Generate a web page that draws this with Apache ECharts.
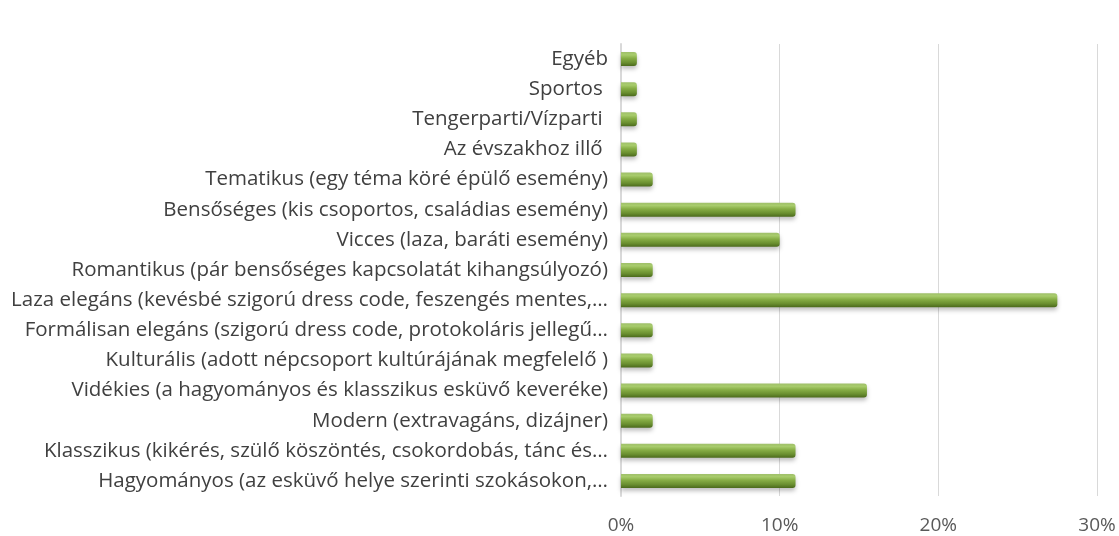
<!DOCTYPE html>
<html>
<head>
<meta charset="utf-8">
<script src="https://cdn.jsdelivr.net/npm/echarts@6/dist/echarts.min.js"></script>
<style>
html,body{margin:0;padding:0;background:#fff;}
#chart{width:1119px;height:536px;}
</style>
</head>
<body>
<div id="chart"></div>
<script>
// Categories listed bottom to top (as in the category axis order)
const categories = [
  "Hagyományos (az esküvő helye szerinti szokásokon,…",
  "Klasszikus (kikérés, szülő köszöntés, csokordobás, tánc és…",
  "Modern (extravagáns, dizájner)",
  "Vidékies (a hagyományos és klasszikus esküvő keveréke)",
  "Kulturális (adott népcsoport kultúrájának megfelelő )",
  "Formálisan elegáns (szigorú dress code, protokoláris jellegű…",
  "Laza elegáns (kevésbé szigorú dress code, feszengés mentes,…",
  "Romantikus (pár bensőséges kapcsolatát kihangsúlyozó)",
  "Vicces (laza, baráti esemény)",
  "Bensőséges (kis csoportos, családias esemény)",
  "Tematikus (egy téma köré épülő esemény)",
  "Az évszakhoz illő ",
  "Tengerparti/Vízparti ",
  "Sportos ",
  "Egyéb"
];
// Shares in percent
const values = [11, 11, 2, 15.5, 2, 2, 27.5, 2, 10, 11, 2, 1, 1, 1, 1];
const xTicks = [0, 10, 20, 30];

const chart = echarts.init(document.getElementById('chart'));
const barGradient = new echarts.graphic.LinearGradient(0, 0, 0, 1, [
  {offset: 0, color: '#9fbf6a'},
  {offset: 0.2, color: '#a8cc6c'},
  {offset: 0.45, color: '#86ad45'},
  {offset: 0.75, color: '#6a8f30'},
  {offset: 1, color: '#4b6a1c'}
]);
chart.setOption({
  animation: false,
  grid: {left: 621, right: 22, top: 44, bottom: 40, containLabel: false},
  xAxis: {
    type: 'value',
    min: xTicks[0],
    max: xTicks[xTicks.length - 1],
    interval: 10,
    axisLine: {show: false},
    axisTick: {show: false},
    splitLine: {show: true, lineStyle: {color: '#d9d9d9', width: 1}},
    axisLabel: {
      formatter: v => v + '%',
      fontFamily: 'Open Sans',
      fontSize: 19,
      color: '#595959',
      margin: 20
    }
  },
  yAxis: {
    type: 'category',
    data: categories,
    axisLine: {show: true, lineStyle: {color: '#d9d9d9', width: 2}},
    axisTick: {show: false},
    axisLabel: {
      fontFamily: 'Open Sans',
      fontSize: 20.5,
      color: '#404040',
      margin: 13
    }
  },
  series: [{
    type: 'bar',
    data: values,
    barWidth: 14,
    itemStyle: {
      color: barGradient,
      borderRadius: [0, 3, 3, 0],
      shadowColor: 'rgba(0,0,0,0.25)',
      shadowBlur: 4,
      shadowOffsetY: 3
    }
  }]
});
</script>
</body>
</html>
